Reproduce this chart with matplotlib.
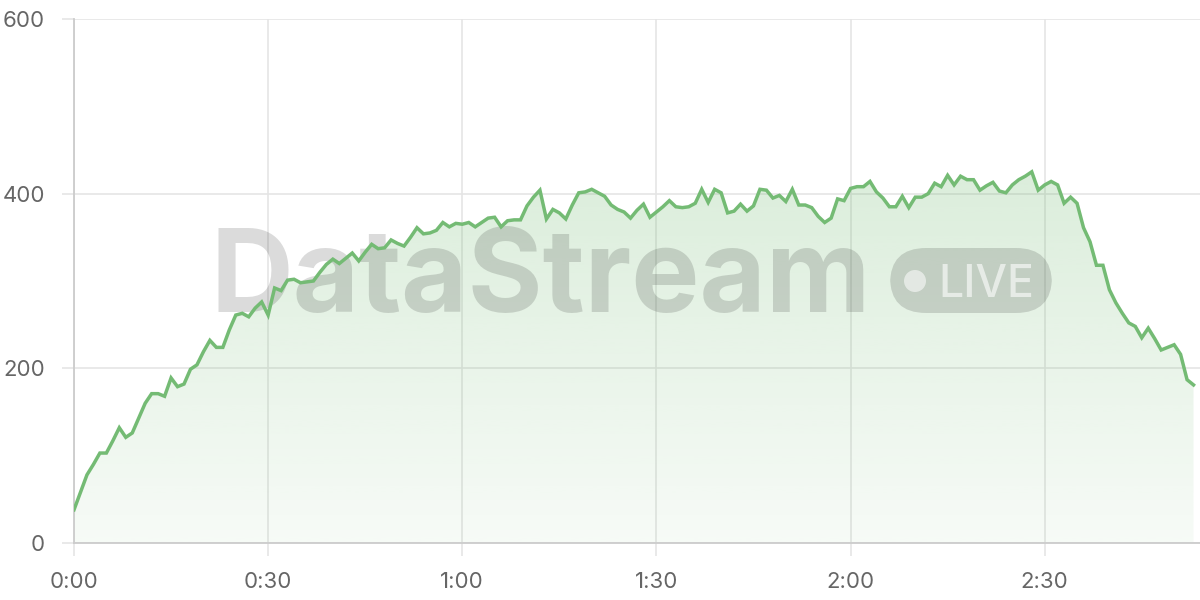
import matplotlib
matplotlib.use("Agg")
import matplotlib.pyplot as plt
import numpy as np
from matplotlib.patches import FancyBboxPatch, Circle

# ---- data ----
values = [38, 58, 78, 90, 103, 103, 117, 132, 121, 126,
          143, 160, 171, 171, 168, 189, 179, 182, 199, 204,
          219, 232, 224, 224, 244, 261, 263, 259, 269, 276,
          261, 292, 289, 301, 302, 298, 299, 300, 310, 319,
          325, 320, 326, 332, 323, 333, 342, 337, 338, 347,
          343, 340, 350, 361, 354, 355, 358, 367, 362, 366,
          365, 367, 362, 367, 372, 373, 362, 369, 370, 370,
          386, 396, 404, 371, 382, 378, 371, 387, 401, 402,
          405, 401, 397, 387, 382, 379, 372, 381, 388, 373,
          379, 385, 392, 385, 384, 385, 389, 405, 390, 405,
          401, 378, 380, 388, 380, 386, 405, 404, 395, 398,
          391, 405, 387, 387, 384, 374, 367, 372, 394, 392,
          406, 408, 408, 414, 402, 395, 385, 385, 397, 384,
          396, 396, 400, 412, 408, 421, 410, 420, 416, 416,
          404, 409, 413, 403, 401, 410, 416, 420, 425, 404,
          410, 414, 410, 389, 396, 389, 361, 345, 318, 318,
          290, 275, 263, 252, 248, 235, 246, 234, 221, 224,
          227, 216, 187, 181]
times = list(range(len(values)))
tick_positions = [0, 30, 60, 90, 120, 150]
tick_labels = ["0:00", "0:30", "1:00", "1:30", "2:00", "2:30"]
y_ticks = [0, 200, 400, 600]

LINE = "#74bb74"
GRID = "#e5e5e5"
TXT = "#666666"

W, H = 1200, 600
fig = plt.figure(figsize=(12, 6), dpi=100)
ax = fig.add_axes([74 / W, (H - 543) / H, (W - 74) / W, (543 - 19) / H])
ax.set_xlim(0, 174)
ax.set_ylim(0, 600)

x = np.array(times, dtype=float)
y = np.array(values, dtype=float)

# gradient fill under the line
poly = ax.fill_between(x, y, 0, color="none", lw=0)
path = poly.get_paths()[0]
n = 256
grad = np.zeros((n, 1, 4))
grad[:, 0, 0] = 0x74 / 255
grad[:, 0, 1] = 0xbb / 255
grad[:, 0, 2] = 0x74 / 255
grad[:, 0, 3] = np.linspace(0.06, 0.26, n)
img = ax.imshow(grad, extent=[0, 174, 0, 430], origin="lower", aspect="auto",
                zorder=1, interpolation="bilinear")
img.set_clip_path(path, transform=ax.transData)
ax.set_xlim(0, 174)
ax.set_ylim(0, 600)

ax.plot(x, y, color=LINE, lw=2.5, zorder=6, solid_joinstyle="miter")

# grid & axes
ax.set_xticks(tick_positions)
ax.set_xticklabels(tick_labels)
ax.set_yticks(y_ticks)
ax.grid(True, color=GRID, lw=1.2, zorder=0)
ax.set_axisbelow(True)
for s in ["top", "right"]:
    ax.spines[s].set_visible(False)
for s in ["left", "bottom"]:
    ax.spines[s].set_color("#cccccc")
    ax.spines[s].set_linewidth(1.3)
ax.tick_params(axis="both", length=9, color=GRID, width=1.2, labelcolor=TXT,
               labelsize=16)
ax.tick_params(axis="x", pad=12)
ax.tick_params(axis="y", pad=12)
for lab in ax.get_xticklabels() + ax.get_yticklabels():
    lab.set_fontfamily("Inter")

# watermark (inside the axes, below the line)
fig.canvas.draw()
renderer = fig.canvas.get_renderer()
wm = ax.text(210 / W, 1 - 312 / H, "DataStream", transform=fig.transFigure,
             fontfamily="Inter", fontweight="bold", fontsize=80, color="black",
             alpha=0.14, ha="left", va="baseline", zorder=3, clip_on=False)
bb = wm.get_window_extent(renderer)
wm.set_fontsize(80 * 662 / bb.width)

box = FancyBboxPatch((890 / W, 1 - 313 / H), 162 / W, 65 / H,
                     boxstyle="round,pad=0,rounding_size=0.03",
                     transform=fig.transFigure, facecolor="black", alpha=0.14,
                     edgecolor="none", zorder=3, mutation_aspect=2,
                     clip_on=False)
ax.add_artist(box)
dot = Circle((915 / W, 1 - 281 / H), 11 / W, transform=fig.transFigure,
             facecolor="white", alpha=0.55, edgecolor="none", zorder=4,
             clip_on=False)
dot.set_transform(fig.dpi_scale_trans)
dot.center = (915 / 100, (H - 281) / 100)
dot.set_radius(11 / 100)
ax.add_artist(dot)
ax.text(938 / W, 1 - 297 / H, "LIVE", transform=fig.transFigure,
        fontfamily="Inter", fontweight="medium", fontsize=32, color="white",
        alpha=0.6, ha="left", va="baseline", zorder=4, clip_on=False)

fig.savefig("out.png", dpi=100)
